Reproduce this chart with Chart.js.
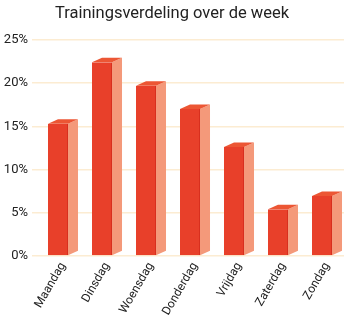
<!DOCTYPE html>
<html lang="nl">
<head>
    <meta charset="UTF-8">
    <title>Trainingsverdeling</title>
    <script src="https://cdn.jsdelivr.net/npm/chart.js"></script>
    <style>
        html, body { margin: 0; padding: 0; background: #fff; }
        #wrap { width: 350px; height: 325px; position: relative; }
    </style>
</head>
<body>
    <div id="wrap"><canvas id="weekChart"></canvas></div>

    <script>
        // data
        const days = ['Maandag', 'Dinsdag', 'Woensdag', 'Donderdag', 'Vrijdag', 'Zaterdag', 'Zondag'];
        const shares = [15.3, 22.4, 19.7, 17.0, 12.6, 5.4, 6.95];
        const yTicks = [0, 5, 10, 15, 20, 25];

        const FRONT = '#e8402a';
        const SIDE = '#f4997a';
        const TOP = '#ec5634';
        const GRID = '#fcecd2';

        // draws the side and top faces so the bars look like blocks
        const blocks = {
            id: 'blocks',
            afterDatasetsDraw(chart) {
                const ctx = chart.ctx;
                const dx = 10, dy = 4.5;
                chart.getDatasetMeta(0).data.forEach(bar => {
                    const { x, y, base, width } = bar.getProps(['x', 'y', 'base', 'width'], true);
                    const l = x - width / 2, r = x + width / 2;
                    ctx.save();
                    ctx.fillStyle = SIDE;
                    ctx.beginPath();
                    ctx.moveTo(r, y);
                    ctx.lineTo(r + dx, y - dy);
                    ctx.lineTo(r + dx, base - dy);
                    ctx.lineTo(r, base);
                    ctx.closePath();
                    ctx.fill();
                    ctx.fillStyle = TOP;
                    ctx.beginPath();
                    ctx.moveTo(l, y);
                    ctx.lineTo(l + dx, y - dy);
                    ctx.lineTo(r + dx, y - dy);
                    ctx.lineTo(r, y);
                    ctx.closePath();
                    ctx.fill();
                    ctx.restore();
                });
            }
        };

        new Chart(document.getElementById('weekChart'), {
            type: 'bar',
            data: {
                labels: days,
                datasets: [{
                    data: shares,
                    backgroundColor: FRONT,
                    borderColor: '#d8301f',
                    borderWidth: { right: 1 },
                    borderSkipped: false,
                    categoryPercentage: 1,
                    barPercentage: 0.455
                }]
            },
            plugins: [blocks],
            options: {
                responsive: true,
                maintainAspectRatio: false,
                animation: false,
                layout: { padding: { left: 0, right: 6, top: 0, bottom: 0 } },
                plugins: {
                    legend: { display: false },
                    tooltip: { enabled: false },
                    title: {
                        display: true,
                        text: 'Trainingsverdeling over de week',
                        color: '#222',
                        font: { family: 'Roboto', size: 16.5, weight: 'normal' },
                        padding: { top: 4, bottom: 16 }
                    }
                },
                scales: {
                    x: {
                        grid: { display: false, drawTicks: false },
                        border: { display: false },
                        ticks: {
                            color: '#222',
                            font: { family: 'Roboto', size: 12 },
                            minRotation: 60,
                            maxRotation: 60,
                            labelOffset: 5,
                            padding: 4
                        },
                        afterFit(scale) { scale.height = 69; }
                    },
                    y: {
                        min: 0,
                        max: 25,
                        afterBuildTicks(scale) { scale.ticks = yTicks.map(v => ({ value: v })); },
                        grid: { color: GRID, lineWidth: 1.5, tickLength: 4 },
                        border: { display: false },
                        ticks: {
                            color: '#222',
                            font: { family: 'Roboto', size: 13 },
                            padding: 4,
                            callback: v => v + '%'
                        },
                        afterFit(scale) { scale.width = 36; }
                    }
                }
            }
        });
    </script>
</body>
</html>
